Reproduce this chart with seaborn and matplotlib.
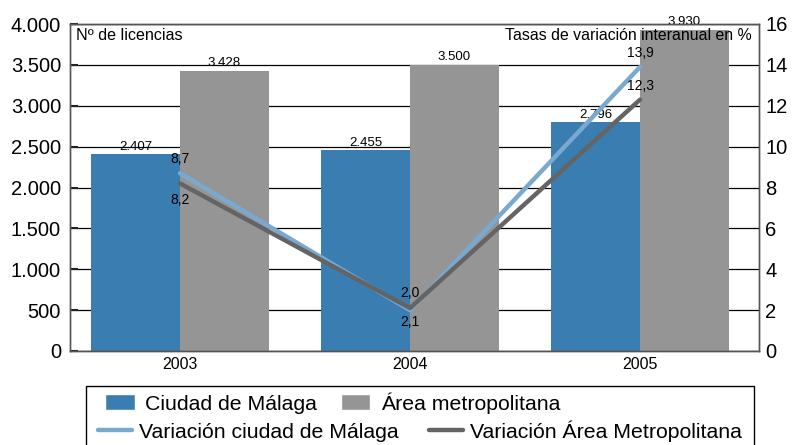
import matplotlib
matplotlib.use("Agg")
import matplotlib.pyplot as plt
import numpy as np
import pandas as pd
import seaborn as sns
from matplotlib.lines import Line2D
from matplotlib.patches import Patch, Rectangle

# datos
years = ["2003", "2004", "2005"]
licencias_malaga = [2407, 2455, 2796]
licencias_area = [3428, 3500, 3930]
variacion_malaga = [8.7, 2.0, 13.9]
variacion_area = [8.2, 2.1, 12.3]

# desplazamiento vertical de las etiquetas de las líneas (puntos)
off_malaga = [10, 12, 10]
off_area = [-12, -10, 10]

BLUE = "#3a7db0"
GRAY = "#959595"
LINE_BLUE = "#7aa9d0"
LINE_GRAY = "#646464"


def fmt_miles(v):
    return f"{v:,.0f}".replace(",", ".")


def fmt_coma(v):
    return f"{v:.1f}".replace(".", ",")


sns.set_theme(style="white")
plt.rcParams["font.family"] = ["Liberation Sans", "DejaVu Sans"]
for key in ("text.color", "axes.labelcolor", "xtick.labelcolor", "ytick.labelcolor"):
    plt.rcParams[key] = "black"

bars = pd.DataFrame({
    "year": years * 2,
    "licencias": licencias_malaga + licencias_area,
    "serie": ["Ciudad de Málaga"] * len(years) + ["Área metropolitana"] * len(years),
})

fig = plt.figure(figsize=(7.92, 4.45), dpi=100)
ax = fig.add_axes([70 / 792, 1 - 351 / 445, (759 - 70) / 792, (351 - 24) / 445])

sns.barplot(data=bars, x="year", y="licencias", hue="serie", palette=[BLUE, GRAY],
            width=0.77, saturation=1, linewidth=0, ax=ax, legend=False)

for cont, vals in zip(ax.containers, [licencias_malaga, licencias_area]):
    ax.bar_label(cont, labels=[fmt_miles(v) for v in vals], padding=1, fontsize=9.5, color="black")

ax.set_ylim(0, 4000)
ax.set_yticks(np.arange(0, 4001, 500))
ax.set_yticklabels([fmt_miles(v) for v in np.arange(0, 4001, 500)])
ax.set_xlim(-0.478, 2.517)
ax.set_xlabel("")
ax.set_ylabel("")
ax.yaxis.grid(True, color="black", linewidth=0.9)
ax.set_axisbelow(True)
ax.tick_params(axis="y", direction="in", length=6, width=1.5, color="#222222",
               labelsize=14.5, pad=6.5, left=True, labelcolor="black")
ax.tick_params(axis="x", length=0, labelsize=11.5, pad=4, labelcolor="black")
for s in ax.spines.values():
    s.set_color("#555555")
    s.set_linewidth(1)

ax2 = ax.twinx()
x = np.arange(len(years))
sns.lineplot(x=x, y=variacion_malaga, ax=ax2, color=LINE_BLUE, linewidth=3.2)
sns.lineplot(x=x, y=variacion_area, ax=ax2, color=LINE_GRAY, linewidth=3.2)
ax2.set_ylim(0, 16)
ax2.set_yticks(np.arange(0, 17, 2))
ax2.tick_params(axis="y", length=0, labelsize=14.5, pad=4.5, labelcolor="black")
ax2.grid(False)
for s in ax2.spines.values():
    s.set_color("#555555")
    s.set_linewidth(1)

for xi, v, o in zip(x, variacion_malaga, off_malaga):
    ax2.annotate(fmt_coma(v), (xi, v), xytext=(0, o), textcoords="offset points",
                 ha="center", va="center", fontsize=10, color="black")
for xi, v, o in zip(x, variacion_area, off_area):
    ax2.annotate(fmt_coma(v), (xi, v), xytext=(0, o), textcoords="offset points",
                 ha="center", va="center", fontsize=10, color="black")

ax2.text(0.009, 0.965, "Nº de licencias", transform=ax2.transAxes, ha="left", va="center",
         fontsize=11.6, color="black")
ax2.text(0.99, 0.965, "Tasas de variación interanual en %", transform=ax2.transAxes,
         ha="right", va="center", fontsize=11.4, color="black")

# leyenda en dos filas dentro de un recuadro
fig.add_artist(Rectangle((86 / 792, -0.05), (754 - 86) / 792, (445 - 386) / 445 + 0.05,
                         transform=fig.transFigure, fill=False, edgecolor="black", linewidth=1))
row1 = [Patch(facecolor=BLUE, label="Ciudad de Málaga"),
        Patch(facecolor=GRAY, label="Área metropolitana")]
row2 = [Line2D([], [], color=LINE_BLUE, linewidth=3.2, label="Variación ciudad de Málaga"),
        Line2D([], [], color=LINE_GRAY, linewidth=3.2, label="Variación Área Metropolitana")]
fig.legend(handles=row1, loc="center left", bbox_to_anchor=(105 / 792, 1 - 403 / 445), ncol=2,
           frameon=False, fontsize=15.3, handlelength=1.4, handleheight=0.8, handletextpad=0.5,
           columnspacing=1.1, borderpad=0, borderaxespad=0, labelcolor="black")
fig.legend(handles=row2, loc="center left", bbox_to_anchor=(98 / 792, 1 - 431 / 445), ncol=2,
           frameon=False, fontsize=15.3, handlelength=1.6, handletextpad=0.35,
           columnspacing=1.4, borderpad=0, borderaxespad=0, labelcolor="black")

fig.savefig("out.png", dpi=100)
